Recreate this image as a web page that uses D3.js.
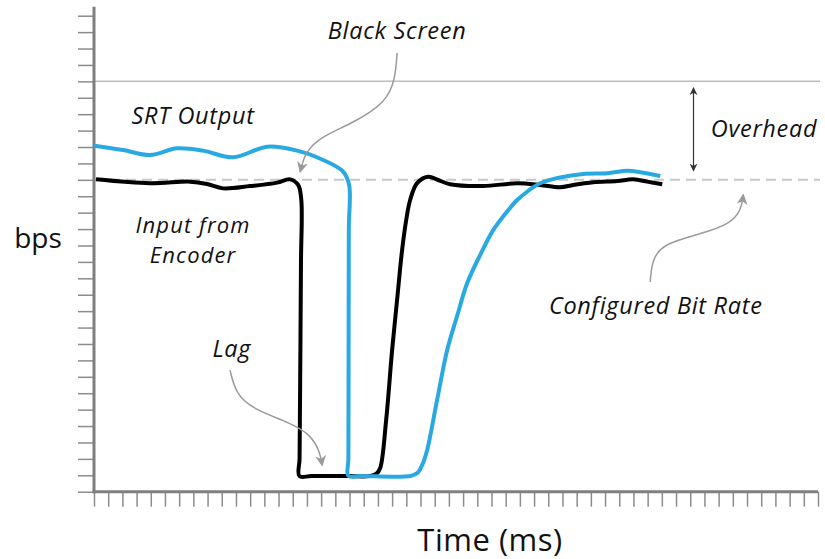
<!DOCTYPE html>
<html>
<head>
<meta charset="utf-8">
<script src="https://cdn.jsdelivr.net/npm/d3@7"></script>
<style>
body{margin:0;background:#fff;}
text{font-family:"Open Sans","DejaVu Sans",sans-serif;fill:#111;}
.label{font-style:italic;font-size:23.5px;letter-spacing:0.7px;}
.label.small{font-size:22px;letter-spacing:1.1px;}
.axisTitle{font-size:28px;}
</style>
</head>
<body>
<svg id="chart" width="825" height="559"></svg>
<script>
// unlabeled ticks on both axes
var xTicks = d3.range(0, 52);
var yTicks = d3.range(0, 30);
var configuredRate = 19;
var overheadLevel = 25;

// Input from Encoder (time, bps)
var inputTime = [0.14, 3.95, 6.77, 7.96, 9.09, 10.99, 12.9, 13.81, 14.38, 14.6, 14.58, 14.5, 14.48, 14.47, 15.3, 17.9, 19.4, 19.9, 20.16, 20.58, 21.0, 21.35, 21.7, 21.99, 22.27, 22.76, 23.54, 24.24, 25.09, 27.41, 29.81, 31.43, 32.84, 33.76, 35.17, 36.86, 37.98, 38.97, 40.03];
var inputValue = [19.03, 18.79, 18.89, 18.75, 18.48, 18.62, 18.83, 19.03, 18.69, 17.8, 14, 4, 2, 0.95, 0.95, 0.95, 0.95, 1.1, 1.44, 4.37, 8.63, 11.68, 14.7, 16.54, 17.77, 18.8, 19.19, 18.99, 18.73, 18.62, 18.79, 18.69, 18.55, 18.69, 18.85, 18.93, 19.03, 18.89, 18.73];

// SRT Output
var srtTime = [0, 2.04, 3.95, 5.85, 7.68, 9.8, 12.19, 14.31, 16.14, 17.55, 17.97, 17.95, 17.93, 17.92, 17.92, 18.8, 22.3, 22.8, 23.2, 23.47, 24.17, 24.88, 25.58, 26.29, 27.2, 28.12, 28.96, 29.81, 30.58, 31.43, 32.84, 34.46, 36.15, 37.56, 38.69, 39.89];
var srtValue = [21.08, 20.82, 20.51, 20.92, 20.78, 20.37, 21.02, 20.78, 20.21, 19.5, 18.69, 16, 6, 2, 0.96, 0.96, 0.96, 1.15, 1.8, 2.54, 5.59, 8.63, 10.71, 12.71, 14.42, 15.94, 16.92, 17.77, 18.32, 18.79, 19.15, 19.36, 19.4, 19.56, 19.43, 19.23];

// annotation arrows
var blackScreenArrow = [[21.35, 26.73], [21.21, 25.08], [20.58, 23.74], [18.39, 22.52], [15.93, 21.61], [14.87, 20.69], [14.52, 19.48]];
var lagArrow = [[9.58, 7.41], [10.01, 5.89], [11.35, 4.98], [13.81, 4.19], [15.22, 3.52], [15.93, 2.42], [16.07, 1.6]];
var rateArrow = [[39.18, 12.78], [39.32, 14.24], [40.24, 15.15], [42.71, 15.7], [44.82, 16.31], [45.6, 17.16], [45.74, 18.1]];

var labels = [
  {text: "Black Screen", t: 21.35, v: 27.56},
  {text: "SRT Output", t: 6.98, v: 22.4},
  {text: "Overhead", t: 47.2, v: 21.63},
  {text: "Input from", t: 6.98, v: 15.77, cls: "small"},
  {text: "Encoder", t: 6.98, v: 13.94, cls: "small"},
  {text: "Configured Bit Rate", t: 39.57, v: 10.83},
  {text: "Lag", t: 9.71, v: 8.19}
];

var svg = d3.select("#chart");

var x = d3.scaleLinear().domain([0, 51]).range([94, 818]),
    y = d3.scaleLinear().domain([0, 29]).range([491.7, 15.7]);

var defs = svg.append("defs");
defs.append("marker")
    .attr("id", "grayHead")
    .attr("viewBox", "0 0 10 10")
    .attr("refX", 9).attr("refY", 5)
    .attr("markerWidth", 11).attr("markerHeight", 11)
    .attr("markerUnits", "userSpaceOnUse")
    .attr("orient", "auto")
  .append("path")
    .attr("d", "M0,0 L10,5 L0,10 L3,5 z")
    .attr("fill", "#9a9a9a");
defs.append("marker")
    .attr("id", "darkHead")
    .attr("viewBox", "0 0 10 10")
    .attr("refX", 9).attr("refY", 5)
    .attr("markerWidth", 8).attr("markerHeight", 8)
    .attr("markerUnits", "userSpaceOnUse")
    .attr("orient", "auto-start-reverse")
  .append("path")
    .attr("d", "M0,0 L10,5 L0,10 L3,5 z")
    .attr("fill", "#333");

// reference lines
svg.append("line")
    .attr("x1", x(0)).attr("x2", 820)
    .attr("y1", y(overheadLevel)).attr("y2", y(overheadLevel))
    .attr("stroke", "#bdbdbd").attr("stroke-width", 1.5);

svg.append("line")
    .attr("x1", x(0)).attr("x2", 820)
    .attr("y1", y(configuredRate)).attr("y2", y(configuredRate))
    .attr("stroke", "#c8c8c8").attr("stroke-width", 2)
    .attr("stroke-dasharray", "10,6");

// axes
svg.append("g")
    .attr("transform", "translate(" + x(0) + ",0)")
    .call(d3.axisLeft(y).tickValues(yTicks).tickSize(16).tickFormat(""));
svg.append("g")
    .attr("transform", "translate(0," + y(0) + ")")
    .call(d3.axisBottom(x).tickValues(xTicks).tickSize(15).tickFormat(""));
svg.selectAll(".domain").remove();
svg.selectAll(".tick line").attr("stroke", "#8c8c8c").attr("stroke-width", 1.5);

svg.append("line")
    .attr("x1", x(0)).attr("x2", x(0))
    .attr("y1", y(29.55)).attr("y2", y(0) + 1.5)
    .attr("stroke", "#7f7f7f").attr("stroke-width", 3);
svg.append("line")
    .attr("x1", x(0) - 1.5).attr("x2", x(51))
    .attr("y1", y(0)).attr("y2", y(0))
    .attr("stroke", "#7f7f7f").attr("stroke-width", 3);

// the two series
var line = d3.line()
    .x(function(d) { return x(d[0]); })
    .y(function(d) { return y(d[1]); })
    .curve(d3.curveCatmullRom.alpha(0.5));

svg.append("path")
    .datum(d3.zip(inputTime, inputValue))
    .attr("d", line)
    .attr("fill", "none")
    .attr("stroke", "#000")
    .attr("stroke-width", 4)
    .attr("stroke-linejoin", "round");

svg.append("path")
    .datum(d3.zip(srtTime, srtValue))
    .attr("d", line)
    .attr("fill", "none")
    .attr("stroke", "#29a9e1")
    .attr("stroke-width", 4)
    .attr("stroke-linejoin", "round");

// annotation arrows
var arrowLine = d3.line()
    .x(function(d) { return x(d[0]); })
    .y(function(d) { return y(d[1]); })
    .curve(d3.curveBasis);

[blackScreenArrow, lagArrow, rateArrow].forEach(function(a) {
  svg.append("path")
      .attr("d", arrowLine(a))
      .attr("fill", "none")
      .attr("stroke", "#9a9a9a")
      .attr("stroke-width", 1.5)
      .attr("marker-end", "url(#grayHead)");
});

// overhead double arrow
svg.append("line")
    .attr("x1", x(42.23)).attr("x2", x(42.23))
    .attr("y1", y(24.6)).attr("y2", y(19.55))
    .attr("stroke", "#333").attr("stroke-width", 1.2)
    .attr("marker-start", "url(#darkHead)")
    .attr("marker-end", "url(#darkHead)");

svg.selectAll(".label")
  .data(labels)
  .enter().append("text")
    .attr("class", function(d) { return "label " + (d.cls || ""); })
    .attr("x", function(d) { return x(d.t); })
    .attr("y", function(d) { return y(d.v); })
    .attr("text-anchor", "middle")
    .text(function(d) { return d.text; });

svg.append("text")
    .attr("class", "axisTitle")
    .attr("x", 38).attr("y", 248)
    .attr("text-anchor", "middle")
    .text("bps");

svg.append("text")
    .attr("class", "axisTitle")
    .attr("x", 490).attr("y", 551)
    .attr("text-anchor", "middle")
    .style("font-size", "31px")
    .style("letter-spacing", "0.5px")
    .text("Time (ms)");
</script>
</body>
</html>
